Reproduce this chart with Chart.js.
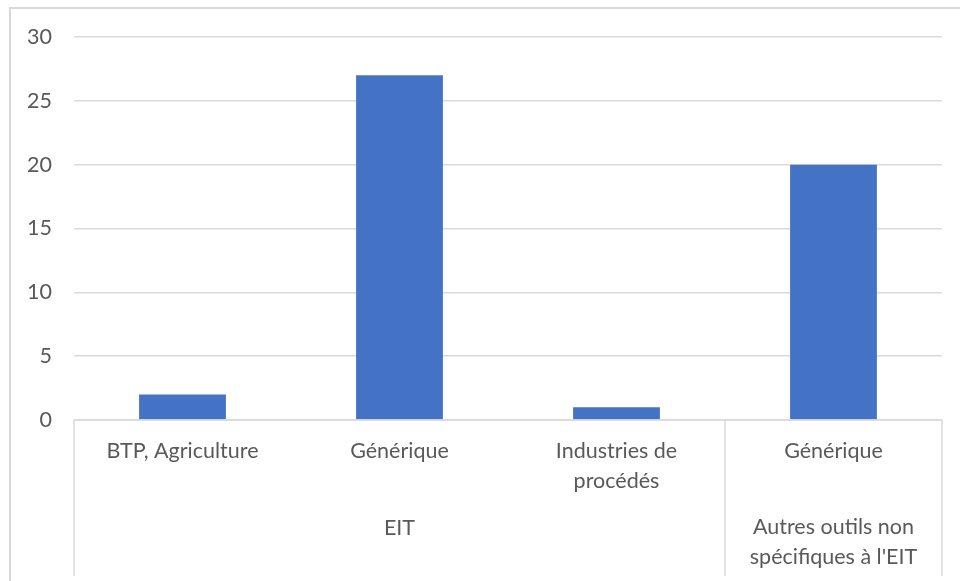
<!DOCTYPE html>
<html>
<head>
<meta charset="utf-8">
<script src="https://cdn.jsdelivr.net/npm/chart.js@4/dist/chart.umd.min.js"></script>
<style>
  html, body { margin: 0; padding: 0; background: #fff; }
  #wrap { position: relative; width: 960px; height: 581px; }
</style>
</head>
<body>
<div id="wrap"><canvas id="c" width="960" height="581"></canvas></div>
<script>
// Category labels (inner level) and their outer groups
const categories = ["BTP, Agriculture", "Générique", ["Industries de", "procédés"], "Générique"];
const groupLabels = [["EIT"], ["Autres outils non", "spécifiques à l'EIT"]];
const groupSpans = [3, 1];
const values = [2, 27, 1, 20];
const yTicks = [0, 5, 10, 15, 20, 25, 30];

const FONT = "Lato, 'Liberation Sans', sans-serif";
const FONT_SIZE = 21.5;
const TEXT = "#595959";
const LINE = "#d9d9d9";

// Draws the chart frame and the two-level category axis
const multiLevelAxis = {
  id: "multiLevelAxis",
  beforeDraw(chart) {
    const ctx = chart.ctx;
    ctx.save();
    ctx.strokeStyle = LINE;
    ctx.lineWidth = 2;
    ctx.beginPath();
    ctx.moveTo(10, 600);
    ctx.lineTo(10, 8);
    ctx.lineTo(970, 8);
    ctx.stroke();
    ctx.restore();
  },
  afterDraw(chart) {
    const ctx = chart.ctx;
    const x = chart.scales.x;
    const area = chart.chartArea;
    const step = (area.right - area.left) / categories.length;
    const base = area.bottom;
    const lowEnd = 576;
    ctx.save();
    ctx.strokeStyle = LINE;
    ctx.lineWidth = 1.5;
    ctx.beginPath();
    ctx.moveTo(area.left, base);
    ctx.lineTo(area.right, base);
    // separators at group boundaries
    let idx = 0;
    const bounds = [0];
    groupSpans.forEach(s => { idx += s; bounds.push(idx); });
    bounds.forEach(b => {
      const px = area.left + b * step;
      ctx.moveTo(px, base);
      ctx.lineTo(px, lowEnd);
    });
    ctx.stroke();

    ctx.fillStyle = TEXT;
    ctx.font = FONT_SIZE + "px " + FONT;
    ctx.textAlign = "center";
    ctx.textBaseline = "middle";
    categories.forEach((lab, i) => {
      const cx = x.getPixelForValue(i);
      const lines = Array.isArray(lab) ? lab : [lab];
      lines.forEach((t, j) => ctx.fillText(t, cx, 451 + j * 30));
    });
    let start = 0;
    groupSpans.forEach((s, g) => {
      const l = area.left + start * step;
      const r = area.left + (start + s) * step;
      const cx = (l + r) / 2;
      const lines = groupLabels[g];
      const top = lines.length === 1 ? 528 : 527;
      lines.forEach((t, j) => ctx.fillText(t, cx, top + j * 30));
      start += s;
    });
    ctx.restore();
  }
};

new Chart(document.getElementById("c"), {
  type: "bar",
  data: {
    labels: categories.map(c => Array.isArray(c) ? c.join(" ") : c),
    datasets: [{
      data: values,
      backgroundColor: "#4472C4",
      borderWidth: 0,
      categoryPercentage: 1,
      barPercentage: 0.4
    }]
  },
  options: {
    responsive: false,
    animation: false,
    layout: { padding: { top: 37, right: 18, bottom: 161, left: 0 } },
    plugins: { legend: { display: false }, tooltip: { enabled: false } },
    scales: {
      x: { display: false },
      y: {
        min: 0, max: 30,
        afterFit(scale) { scale.width = 74; },
        afterBuildTicks(scale) { scale.ticks = yTicks.map(v => ({ value: v })); },
        border: { display: false },
        grid: { color: LINE, lineWidth: 1.5, drawTicks: false },
        ticks: {
          color: TEXT,
          font: { family: FONT, size: FONT_SIZE },
          padding: 22
        }
      }
    }
  },
  plugins: [multiLevelAxis]
});
</script>
</body>
</html>
